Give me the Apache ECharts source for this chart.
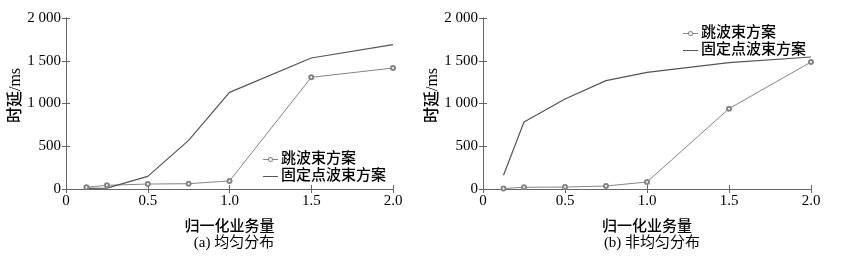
<!DOCTYPE html>
<html><head><meta charset="utf-8">
<script src="https://cdn.jsdelivr.net/npm/echarts@6/dist/echarts.min.js"></script>
<style>html,body{margin:0;padding:0;background:#fff}#c{width:841px;height:258px}</style>
</head><body><div id="c"></div>
<script>
const xValues = [0.125, 0.25, 0.5, 0.75, 1.0, 1.5, 2.0];
const hopA   = [20, 43, 58, 62, 94, 1306, 1415];
const fixedA = [8, 10, 148, 569, 1130, 1532, 1688];
const hopB   = [5, 20, 23, 35, 82, 940, 1485];
const fixedB = [160, 784, 1053, 1267, 1365, 1478, 1544];
const seriesNames = ['跳波束方案', '固定点波束方案'];
const captions = ['(a) 均匀分布', '(b) 非均匀分布'];
const xName = '归一化业务量';
const yName = '时延/ms';

const FONT = '"Liberation Serif", "Noto Sans CJK SC", serif';
const pair = (ys) => xValues.map((x, i) => [x, ys[i]]);
const grids = [
  {left: 66, right: 448, top: 18, bottom: 69},
  {left: 483, right: 30, top: 18, bottom: 69}
];
const axisLine = {show: true, lineStyle: {color: '#666', width: 1}};
const tick = {show: true, inside: true, length: 4, lineStyle: {color: '#666'}};
const xAxes = [], yAxes = [];
grids.forEach((g, gi) => {
  xAxes.push({type: 'value', gridIndex: gi, min: 0, max: 2, interval: 0.5,
    name: xName, nameLocation: 'middle', nameGap: 31,
    nameTextStyle: {fontFamily: FONT, fontSize: 15, color: '#000', fontWeight: 500},
    axisLine, axisTick: tick, splitLine: {show: false},
    axisLabel: {margin: 5, fontFamily: FONT, fontSize: 15, color: '#000',
      formatter: v => v === 0 ? '0' : v.toFixed(1)}});
  xAxes.push({type: 'value', gridIndex: gi, position: 'top', min: 0, max: 2, interval: 0.5,
    axisLine, axisTick: tick, splitLine: {show: false}, axisLabel: {show: false}});
  yAxes.push({type: 'value', gridIndex: gi, min: 0, max: 2000, interval: 500,
    name: yName, nameLocation: 'middle', nameGap: 39, nameRotate: 90,
    nameTextStyle: {fontFamily: FONT, fontSize: 16, color: '#000', fontWeight: 500, padding: [0, 0, 0, 16]},
    axisLine, axisTick: tick, splitLine: {show: false},
    axisLabel: {margin: 5, fontFamily: FONT, fontSize: 15, color: '#000',
      formatter: v => v >= 1000 ? Math.floor(v / 1000) + ' ' + String(v % 1000).padStart(3, '0') : String(v)}});
  yAxes.push({type: 'value', gridIndex: gi, position: 'right', min: 0, max: 2000, interval: 500,
    axisLine, axisTick: tick, splitLine: {show: false}, axisLabel: {show: false}});
});
const hopStyle = {type: 'line', symbol: 'emptyCircle', symbolSize: 4,
  lineStyle: {color: '#858585', width: 1}, itemStyle: {color: '#858585', borderWidth: 1}};
const fixStyle = {type: 'line', symbol: 'none',
  lineStyle: {color: '#555', width: 1.2}, itemStyle: {color: '#555'}};
const series = [
  Object.assign({name: seriesNames[0], xAxisIndex: 0, yAxisIndex: 0, data: pair(hopA)}, hopStyle),
  Object.assign({name: seriesNames[1], xAxisIndex: 0, yAxisIndex: 0, data: pair(fixedA)}, fixStyle),
  Object.assign({name: seriesNames[0], xAxisIndex: 2, yAxisIndex: 2, data: pair(hopB)}, hopStyle),
  Object.assign({name: seriesNames[1], xAxisIndex: 2, yAxisIndex: 2, data: pair(fixedB)}, fixStyle)
];
const hopIcon = 'path://M0,3.5h5.2v1h-5.2z M9.8,3.5h5.2v1h-5.2z M7.5,1.5a2.5,2.5 0 1,1 -0.001,0z M7.5,2.5a1.5,1.5 0 1,0 0.001,0z';
const fixIcon = 'path://M0,0h15v1h-15z';
const legendBase = {orient: 'vertical', itemWidth: 15, itemHeight: 8, itemGap: 2,
  textStyle: {fontFamily: FONT, fontSize: 15, color: '#000', fontWeight: 500, padding: [0, 0, 0, -2]},
  data: [{name: seriesNames[0], icon: hopIcon}, {name: seriesNames[1], icon: fixIcon}]};
const chart = echarts.init(document.getElementById('c'), null, {renderer: 'canvas'});
chart.setOption({
  animation: false,
  backgroundColor: '#fff',
  grid: grids,
  xAxis: xAxes,
  yAxis: yAxes,
  series,
  legend: [
    Object.assign({left: 258, top: 147}, legendBase),
    Object.assign({left: 678, top: 21}, legendBase)
  ],
  title: [
    {text: captions[0], left: 229, top: 231, textAlign: 'center',
      textStyle: {fontFamily: FONT, fontSize: 15, fontWeight: 'normal', color: '#000'}},
    {text: captions[1], left: 647, top: 231, textAlign: 'center',
      textStyle: {fontFamily: FONT, fontSize: 15, fontWeight: 'normal', color: '#000'}}
  ]
});
</script></body></html>
